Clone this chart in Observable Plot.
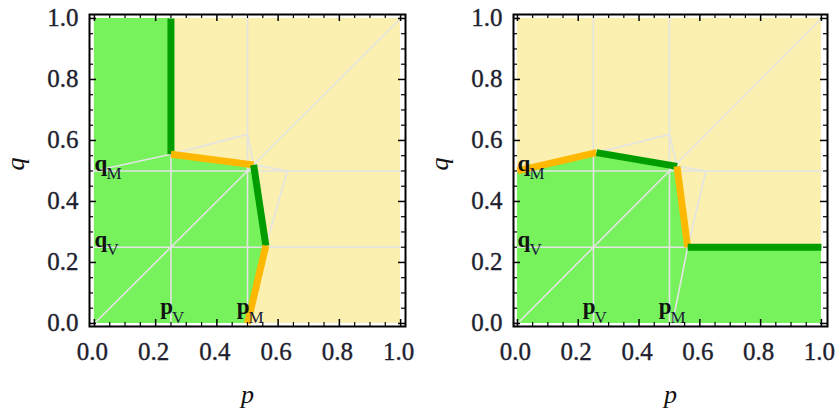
<!DOCTYPE html>
<html><head><meta charset="utf-8">
<script src="https://cdn.jsdelivr.net/npm/d3@7"></script>
<script src="https://cdn.jsdelivr.net/npm/@observablehq/plot@0.6"></script>
<style>
body{margin:0;background:#fff;}
#wrap{display:flex;width:836px;height:415px;overflow:hidden;}
#wrap svg{flex:none;}
</style></head><body><div id="wrap"></div>
<script>
// ---- tick values ----
const majorTicks = [0, 0.2, 0.4, 0.6, 0.8, 1.0];
const minorTicks = [0.05, 0.1, 0.15, 0.25, 0.3, 0.35, 0.45, 0.5, 0.55, 0.65, 0.7, 0.75, 0.85, 0.9, 0.95];

// ---- region labels ----
const labelMain = ["p", "p", "q", "q"];
const labelSub  = ["V", "M", "M", "V"];
const labelP    = [0.25, 0.5, 0, 0];
const labelQ    = [0, 0, 0.5, 0.25];

// ---- left panel ----
const leftPathP = [0.25, 0.25, 0.52, 0.56, 0.5];
const leftPathQ = [1.0, 0.555, 0.52, 0.255, 0.0];
const leftSegColor = ["green", "orange", "green", "orange"];
const leftGrayId = [0,0, 1,1, 2,2, 3,3, 4,4, 5,5,5,5,5,5,5];
const leftGrayP  = [0,1, 0,1, 0,1, 0.25,0.25, 0.5,0.5, 0,0.25,0.5,0.52,0.63,0.56,0.51];
const leftGrayQ  = [0,1, 0.5,0.5, 0.25,0.25, 0,1, 0,1, 0.5,0.555,0.62,0.52,0.5,0.255,0];

// ---- right panel ----
const rightPathP = [0, 0.26, 0.525, 0.56, 1.0];
const rightPathQ = [0.5, 0.56, 0.515, 0.25, 0.25];
const rightSegColor = ["orange", "green", "orange", "green"];
const rightGrayId = [0,0, 1,1, 2,2, 3,3, 4,4, 5,5,5,5,5,5,5];
const rightGrayP  = [0,1, 0,1, 0,1, 0.25,0.25, 0.5,0.5, 0,0.26,0.5,0.525,0.62,0.56,0.51];
const rightGrayQ  = [0,1, 0.5,0.5, 0.25,0.25, 0,1, 0,1, 0.5,0.56,0.62,0.515,0.5,0.25,0];

const unitSquare = [{x1: 0, x2: 1, y1: 0, y2: 1}];

const COLORS = {
  yellow: "#fbf0b0", lightGreen: "#78f25c", green: "#009c00", orange: "#ffb800", gray: "#e4e4e4"
};
const SERIF = "Liberation Serif, Times New Roman, DejaVu Serif, serif";
const fmt = d3.format(".1f");

function segments(P, Q, C) {
  return C.map((c, i) => ({x1: P[i], y1: Q[i], x2: P[i+1], y2: Q[i+1], c}));
}

function panel({width, ml, mr, xDomain, pathP, pathQ, segColor, grayId, grayP, grayQ, fillMode}) {
  const height = 415, mt = 14, mb = 89;
  const H = height - mt - mb, W = width - ml - mr;
  const path = pathP.map((p, i) => ({p, q: pathQ[i]}));
  const gray = grayId.map((id, i) => ({id, p: grayP[i], q: grayQ[i]}));
  const labels = labelMain.map((m, i) => ({m, s: labelSub[i], p: labelP[i], q: labelQ[i]}));
  const pLabels = labels.filter(d => d.m === "p");
  const qLabels = labels.filter(d => d.m === "q");
  const fill = fillMode === "left"
    ? Plot.areaX(path, {x1: 0, x2: "p", y: "q", fill: COLORS.lightGreen})
    : Plot.areaY(path, {x: "p", y1: 0, y2: "q", fill: COLORS.lightGreen});
  const lab = {fontFamily: SERIF, fontWeight: "bold", fill: "#111", lineAnchor: "bottom"};
  const sub = {fontFamily: SERIF, fontWeight: "normal", fill: "#1a1a3a", lineAnchor: "bottom"};
  const tickTxt = {fontFamily: SERIF, fontSize: 25, fill: "#1e1e2e", stroke: "#1e1e2e", strokeWidth: 0.35,
    text: d => fmt(d)};
  return Plot.plot({
    width, height, marginLeft: ml, marginRight: mr, marginTop: mt, marginBottom: mb,
    x: {domain: xDomain, axis: null},
    y: {domain: [-0.01, 1.013], axis: null},
    style: {background: "white"},
    marks: [
      Plot.rect(unitSquare, {x1: "x1", x2: "x2", y1: "y1", y2: "y2", fill: COLORS.yellow}),
      fill,
      Plot.line(gray, {x: "p", y: "q", z: "id", stroke: COLORS.gray, strokeWidth: 1.6}),
      Plot.link(segments(pathP, pathQ, segColor), {x1: "x1", y1: "y1", x2: "x2", y2: "y2",
        stroke: d => COLORS[d.c], strokeWidth: 7, strokeLinecap: "butt"}),
      Plot.text(pLabels, {x: "p", y: "q", text: "m", textAnchor: "end", dx: 2, dy: -9, fontSize: 23, ...lab}),
      Plot.text(pLabels, {x: "p", y: "q", text: "s", textAnchor: "start", dx: 1, dy: 0, fontSize: 17, ...sub}),
      Plot.text(qLabels, {x: "p", y: "q", text: "m", textAnchor: "start", dx: 0, dy: 0, fontSize: 23, ...lab}),
      Plot.text(qLabels, {x: "p", y: "q", text: "s", textAnchor: "start", dx: 12, dy: 8, fontSize: 17, ...sub}),
      Plot.frame({stroke: "black", strokeWidth: 2}),
      Plot.tickX(majorTicks, {x: d => d, insetTop: H - 7, stroke: "black", strokeWidth: 1.5}),
      Plot.tickX(majorTicks, {x: d => d, insetBottom: H - 7, stroke: "black", strokeWidth: 1.5}),
      Plot.tickX(minorTicks, {x: d => d, insetTop: H - 4, stroke: "black", strokeWidth: 1.2}),
      Plot.tickX(minorTicks, {x: d => d, insetBottom: H - 4, stroke: "black", strokeWidth: 1.2}),
      Plot.tickY(majorTicks, {y: d => d, insetRight: W - 7, stroke: "black", strokeWidth: 1.5}),
      Plot.tickY(majorTicks, {y: d => d, insetLeft: W - 7, stroke: "black", strokeWidth: 1.5}),
      Plot.tickY(minorTicks, {y: d => d, insetRight: W - 4, stroke: "black", strokeWidth: 1.2}),
      Plot.tickY(minorTicks, {y: d => d, insetLeft: W - 4, stroke: "black", strokeWidth: 1.2}),
      // tick labels
      Plot.text(majorTicks, {x: d => d, frameAnchor: "bottom", lineAnchor: "top", dx: -2, dy: 16, ...tickTxt}),
      Plot.text(majorTicks, {y: d => d, frameAnchor: "left", lineAnchor: "middle", textAnchor: "end", dx: -11, ...tickTxt}),
      // axis titles
      Plot.text(["p"], {frameAnchor: "bottom", lineAnchor: "bottom", dy: 76, fontStyle: "italic", fontSize: 26,
        fontFamily: SERIF, fill: "#111"}),
      Plot.text(["q"], {frameAnchor: "left", lineAnchor: "bottom", dx: -66, rotate: -90, fontStyle: "italic", fontSize: 26,
        fontFamily: SERIF, fill: "#111"})
    ]
  });
}

const wrap = document.getElementById("wrap");
wrap.append(panel({width: 418, ml: 89, mr: 13, xDomain: [-0.016, 1.016],
  pathP: leftPathP, pathQ: leftPathQ, segColor: leftSegColor,
  grayId: leftGrayId, grayP: leftGrayP, grayQ: leftGrayQ, fillMode: "left"}));
wrap.append(panel({width: 418, ml: 95, mr: 9, xDomain: [-0.013, 1.02],
  pathP: rightPathP, pathQ: rightPathQ, segColor: rightSegColor,
  grayId: rightGrayId, grayP: rightGrayP, grayQ: rightGrayQ, fillMode: "right"}));
</script></body></html>
